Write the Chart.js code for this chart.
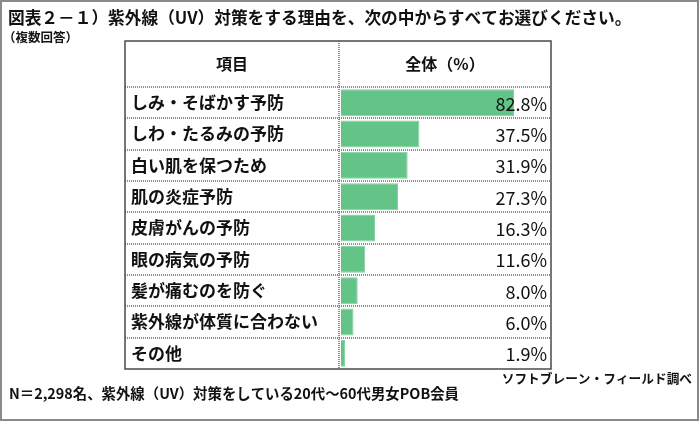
<!DOCTYPE html>
<html>
<head>
<meta charset="utf-8">
<script src="https://cdn.jsdelivr.net/npm/chart.js@4.4.0/dist/chart.umd.min.js"></script>
<style>
  html, body { margin: 0; padding: 0; background: #fff; }
  #wrap { width: 700px; height: 422px; }
</style>
</head>
<body>
<div id="wrap"><canvas id="uvChart" width="700" height="422"></canvas></div>
<script>
// --- Data ---
const titleText = '図表２－１）紫外線（UV）対策をする理由を、次の中からすべてお選びください。';
const subTitleText = '（複数回答）';
const headerItem = '項目';
const headerTotal = '全体（%）';
const sourceText = 'ソフトブレーン・フィールド調べ';
const noteText = 'N＝2,298名、紫外線（UV）対策をしている20代～60代男女POB会員';

const reasons = [
    'しみ・そばかす予防',
    'しわ・たるみの予防',
    '白い肌を保つため',
    '肌の炎症予防',
    '皮膚がんの予防',
    '眼の病気の予防',
    '髪が痛むのを防ぐ',
    '紫外線が体質に合わない',
    'その他'
];
const totalPct = [82.8, 37.5, 31.9, 27.3, 16.3, 11.6, 8.0, 6.0, 1.9];

const FONT = '"Noto Sans CJK JP", "Noto Sans", sans-serif';

// --- Table frame, header, value labels and notes ---
const tablePlugin = {
    id: 'tableFrame',
    afterDatasetsDraw(chart) {
        const { ctx, chartArea } = chart;
        const yScale = chart.scales.y;
        const xScale = chart.scales.x;
        const tLeft = 125, tRight = chartArea.right + 1, tTop = 41, tBottom = chartArea.bottom;
        const divX = xScale.getPixelForValue(0) - 2;
        const half = (yScale.getPixelForValue(1) - yScale.getPixelForValue(0)) / 2;

        ctx.save();
        // dotted row lines
        ctx.strokeStyle = '#8c8c8c';
        ctx.lineWidth = 2;
        ctx.setLineDash([1, 1]);
        for (let i = 0; i < reasons.length; i++) {
            const y = Math.round(yScale.getPixelForValue(i) - half);
            ctx.beginPath();
            ctx.moveTo(tLeft, y);
            ctx.lineTo(tRight, y);
            ctx.stroke();
        }
        // dotted column divider
        ctx.beginPath();
        ctx.moveTo(divX, tTop);
        ctx.lineTo(divX, tBottom);
        ctx.stroke();
        ctx.setLineDash([]);

        // outer table border
        ctx.strokeStyle = '#4a4a4a';
        ctx.lineWidth = 1.5;
        ctx.strokeRect(tLeft, tTop, tRight - tLeft, tBottom - tTop);

        // header
        ctx.fillStyle = '#111';
        ctx.font = 'bold 16px ' + FONT;
        ctx.textAlign = 'center';
        ctx.textBaseline = 'middle';
        ctx.fillText(headerItem, (tLeft + divX) / 2, 64);
        ctx.fillText(headerTotal, (divX + tRight) / 2, 64);

        // value labels
        ctx.font = '18px ' + FONT;
        ctx.textAlign = 'right';
        totalPct.forEach((v, i) => {
            ctx.fillText(v.toFixed(1) + '%', tRight - 4, yScale.getPixelForValue(i) + 1);
        });

        // title & notes
        ctx.textAlign = 'left';
        ctx.font = 'bold 16.7px ' + FONT;
        ctx.fillText(titleText, 8, 18);
        ctx.font = 'bold 12.5px ' + FONT;
        ctx.fillText(subTitleText, 3, 37);
        ctx.font = 'bold 14.4px ' + FONT;
        ctx.fillText(noteText, 9, 394);
        ctx.textAlign = 'right';
        ctx.font = 'bold 12.7px ' + FONT;
        ctx.fillText(sourceText, 692, 378);

        // outer frame
        ctx.strokeStyle = '#8a8a8a';
        ctx.lineWidth = 2;
        ctx.strokeRect(1, 1, 697, 419);
        ctx.restore();
    }
};

const chart = new Chart(document.getElementById('uvChart'), {
    type: 'bar',
    data: {
        labels: reasons,
        datasets: [{
            data: totalPct,
            backgroundColor: '#64c387',
            borderColor: '#7fd09e',
            borderWidth: 1,
            barPercentage: 0.86,
            categoryPercentage: 1
        }]
    },
    options: {
        indexAxis: 'y',
        responsive: false,
        animation: false,
        layout: { padding: { left: 131, right: 150, top: 87, bottom: 53 } },
        plugins: {
            legend: { display: false },
            tooltip: { enabled: false }
        },
        scales: {
            x: { display: false, min: 0, max: 100 },
            y: {
                afterFit(scale) { scale.width = 210; },
                grid: { display: false },
                border: { display: false },
                ticks: {
                    crossAlign: 'far',
                    color: '#111',
                    font: { family: FONT, size: 17, weight: 'bold' }
                }
            }
        }
    },
    plugins: [tablePlugin]
});
</script>
</body>
</html>
